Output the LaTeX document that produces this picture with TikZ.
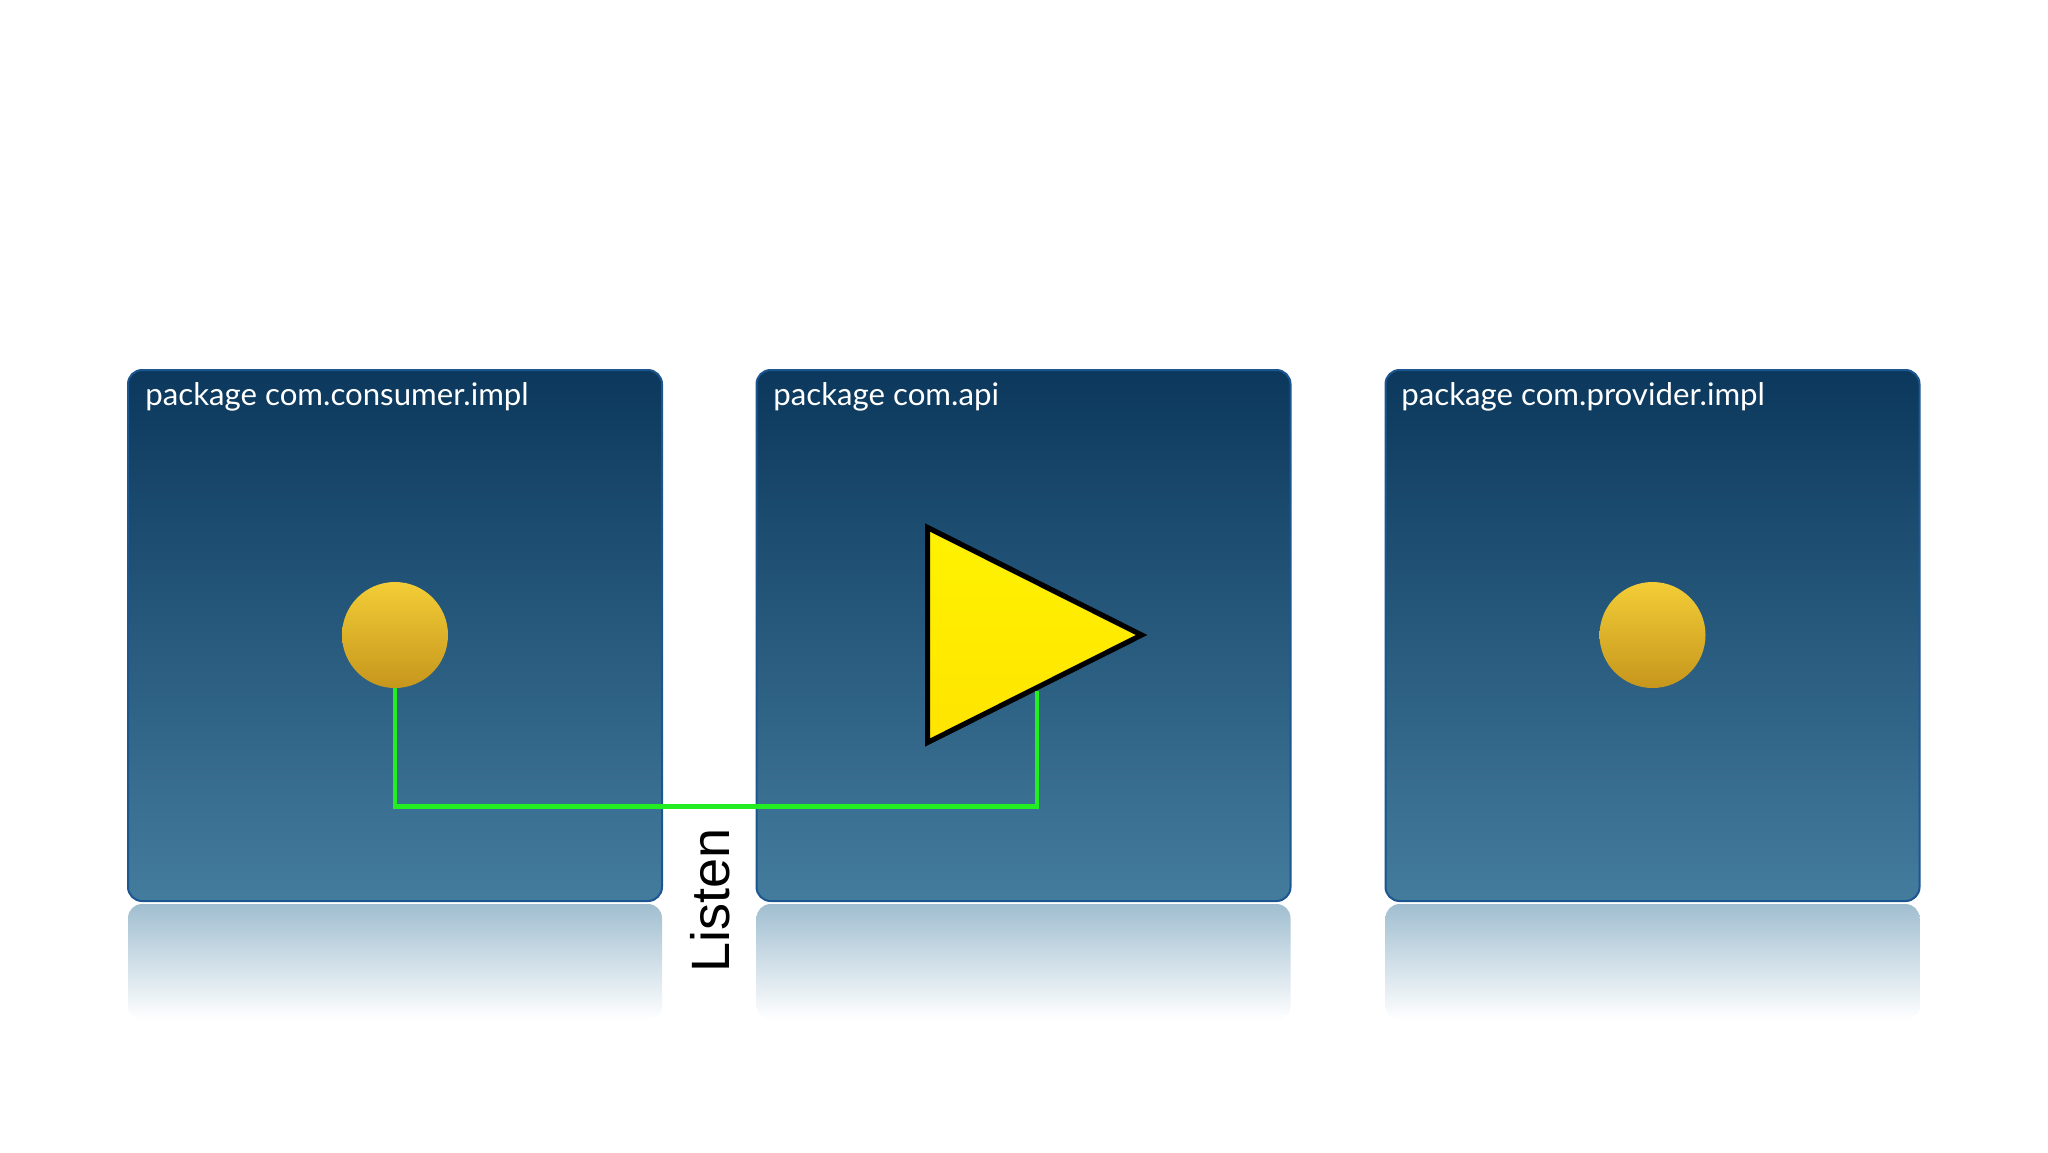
\documentclass[tikz,border=0pt]{standalone}
\usepackage{fontspec}
\setmainfont{Lato}
\newfontfamily\listenfont{Liberation Sans}
\usetikzlibrary{shapes.geometric,positioning}

\definecolor{boxtop}{RGB}{11,56,92}
\definecolor{boxbottom}{RGB}{68,124,158}
\definecolor{boxline}{RGB}{28,86,145}
\definecolor{refltop}{RGB}{160,190,208}
\definecolor{balltop}{RGB}{243,205,55}
\definecolor{ballbottom}{RGB}{198,150,28}
\definecolor{flagtop}{RGB}{255,242,0}
\definecolor{flagbottom}{RGB}{255,228,0}
\definecolor{wirecol}{RGB}{34,238,34}

\begin{document}
\begin{tikzpicture}[x=0.5pt,y=-0.5pt,
	pkg/.style={rectangle, rounded corners=7pt, draw=boxline, line width=1pt, top color=boxtop, bottom color=boxbottom, minimum width=267pt, minimum height=265.5pt, inner sep=0pt},
	mirror/.style={rectangle, rounded corners=7pt, top color=refltop, bottom color=white, minimum width=267pt, minimum height=58pt, inner sep=0pt},
	pkgtitle/.style={anchor=base west, text=white, font=\fontsize{15.6}{18}\selectfont, inner sep=0pt},
	ball/.style={circle, top color=balltop, bottom color=ballbottom, minimum size=53pt, inner sep=0pt},
	flag/.style={isosceles triangle, isosceles triangle stretches, draw=black, line width=2.6pt, top color=flagtop, bottom color=flagbottom, minimum width=107.5pt, minimum height=107pt, inner sep=0pt},
	wire/.style={draw=wirecol, line width=2.2pt}]
		\useasboundingbox (0,0) rectangle (2048,1152);

		% reflections under the packages
		\node[mirror] (consumerMirror) at (395,962) {};
		\node[mirror] (apiMirror) at (1023.5,962) {};
		\node[mirror] (providerMirror) at (1652.5,962) {};

		% packages
		\node[pkg] (consumer) at (395,635.5) {};
		\node[pkg] (api) at (1023.5,635.5) {};
		\node[pkg] (provider) at (1652.5,635.5) {};

		\node[pkgtitle] (consumerTitle) at (145,405) {package com.consumer.impl};
		\node[pkgtitle] (apiTitle) at (773,405) {package com.api};
		\node[pkgtitle] (providerTitle) at (1401,405) {package com.provider.impl};

		\node[ball] (consumerBall) at (395,635) {};
		\node[ball] (providerBall) at (1652.5,635) {};
		\node[flag, anchor=lower side] (apiFlag) at (925,635) {};

		\draw[wire] (consumerBall.south) -- ++(0,118) -| (apiFlag.right side);
		\node[rotate=90, font=\listenfont\fontsize{27}{30}\selectfont] (listenLabel) at (710,900) {Listen};
	\end{tikzpicture}
\end{document}
